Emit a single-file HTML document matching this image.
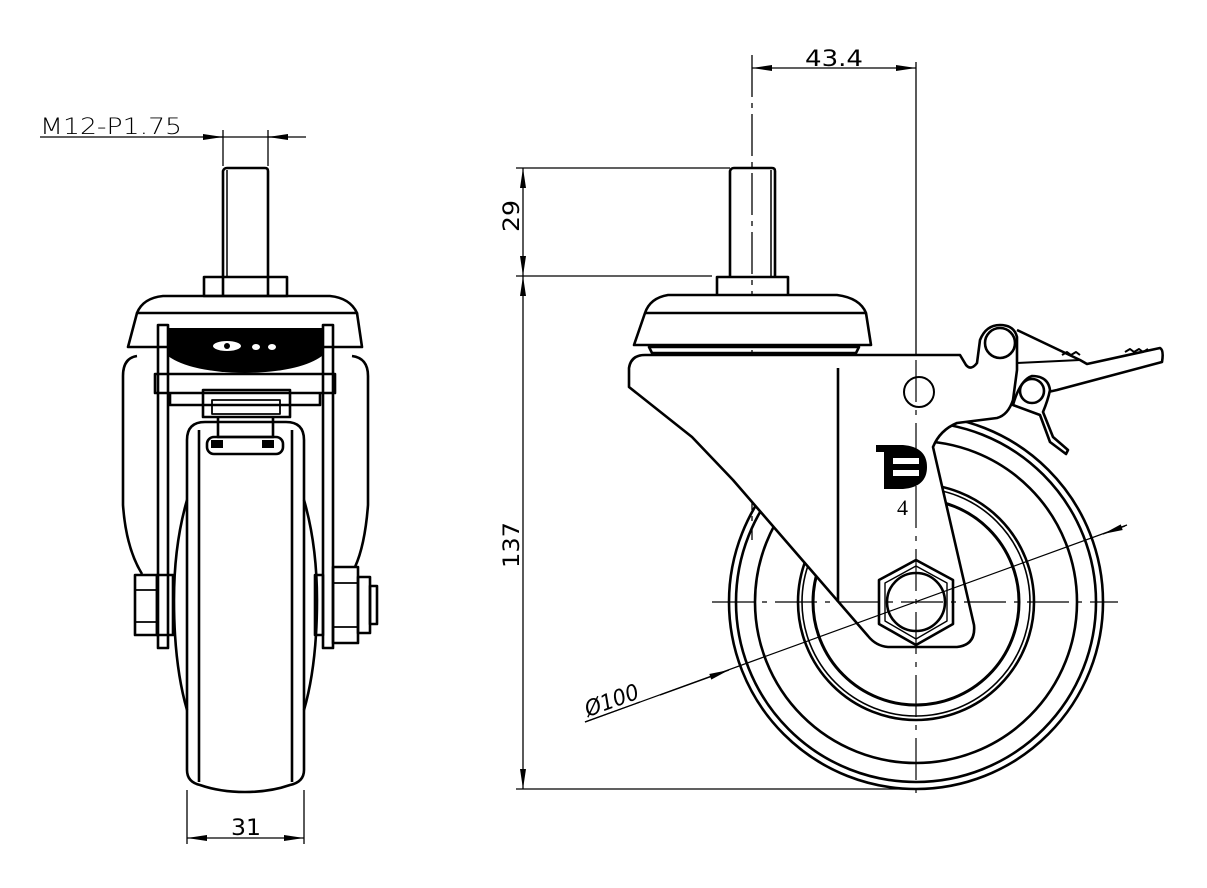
<!DOCTYPE html>
<html><head><meta charset="utf-8"><style>
html,body{margin:0;padding:0;background:#fff}
svg{display:block}
text{font-family:"Liberation Sans",sans-serif;fill:#000}
</style></head><body>
<svg width="1207" height="888" viewBox="0 0 1207 888" xmlns="http://www.w3.org/2000/svg">
<defs>
<marker id="a" viewBox="0 0 20 8" refX="20" refY="4" markerWidth="20" markerHeight="8" markerUnits="userSpaceOnUse" orient="auto-start-reverse"><path d="M0,1 L20,4 L0,7 Z" fill="#000"/></marker>
</defs>
<g fill="none" stroke="#000" stroke-width="1.3">
<!-- ===== LEFT VIEW dims ===== -->
<line x1="40" y1="137" x2="306" y2="137"/>
<line x1="203" y1="137" x2="223" y2="137" marker-end="url(#a)"/>
<line x1="288" y1="137" x2="268" y2="137" marker-end="url(#a)"/>
<line x1="223" y1="130" x2="223" y2="166"/>
<line x1="268" y1="130" x2="268" y2="166"/>
<line x1="187" y1="790" x2="187" y2="844"/>
<line x1="304" y1="790" x2="304" y2="844"/>
<line x1="187" y1="838" x2="304" y2="838" marker-start="url(#a)" marker-end="url(#a)"/>
</g>
<text x="40" y="134" font-size="22" textLength="142" lengthAdjust="spacingAndGlyphs" style="font-family:'DejaVu Sans',sans-serif;font-weight:200">M12-P1.75</text>
<text x="231" y="835" font-size="22" textLength="30" lengthAdjust="spacingAndGlyphs" style="font-family:'DejaVu Sans',sans-serif">31</text>

<!-- ===== LEFT VIEW drawing ===== -->
<g fill="none" stroke="#000" stroke-width="2.6" stroke-linejoin="round">
<!-- stem -->
<path d="M223,296 L223,171 Q224,168 227,168 L265,168 Q268,168 268,171 L268,296"/>
<line x1="227" y1="170" x2="227" y2="277" stroke-width="1.5"/>
<rect x="204" y="277" width="83" height="19"/>
<!-- cap -->
<path d="M163,296 L330,296 Q350,298 357,313 L137,313 Q143,298 163,296 Z"/>
<path d="M137,313 L128,347 L362,347 L357,313"/>
<!-- outer shell -->
<path d="M137,356 Q123,358 123,376 L123,505 Q126,548 142,574"/>
<path d="M352,356 Q368,358 368,376 L368,505 Q365,545 355,567"/>
<!-- fork plates -->
<rect x="158" y="325" width="10" height="323"/>
<rect x="323" y="325" width="10" height="323"/>
<!-- wheel -->
<path d="M187,440 Q187,422 205,422 L286,422 Q304,422 304,440 L304,770 Q304,782 290,785 Q270,792 245,792 Q220,792 200,785 Q187,782 187,770 Z"/>
<line x1="199" y1="430" x2="199" y2="782"/>
<line x1="292" y1="430" x2="292" y2="782"/>
<path d="M187,500 Q174,545 174,600 Q174,665 187,710"/>
<path d="M304,500 Q317,545 317,600 Q317,665 304,710"/>
<!-- nuts -->
<rect x="135" y="575" width="22" height="60"/>
<line x1="135" y1="590" x2="157" y2="590" stroke-width="1.8"/>
<line x1="135" y1="622" x2="157" y2="622" stroke-width="1.8"/>
<rect x="157" y="575" width="16" height="60"/>
<rect x="333" y="567" width="25" height="76"/>
<line x1="333" y1="583" x2="358" y2="583" stroke-width="1.8"/>
<line x1="333" y1="627" x2="358" y2="627" stroke-width="1.8"/>
<rect x="315" y="575" width="8" height="60"/>
<rect x="358" y="577" width="12" height="56"/>
<rect x="370" y="586" width="7" height="38"/>
<!-- bearing area -->
<path d="M155,374 L335,374 L335,393 L155,393 Z"/>
<path d="M170,393 L170,405 L320,405 L320,393"/>
<rect x="203" y="390" width="87" height="27"/>
<rect x="212" y="400" width="68" height="14" stroke-width="1.8"/>
<path d="M218,417 L218,437 L273,437 L273,417"/>
<rect x="207" y="437" width="76" height="17" rx="7"/>
</g>
<!-- dark gear region -->
<path d="M168,328 L322,328 L322,356 Q300,372 245,373 Q190,372 168,356 Z" fill="#000"/>
<ellipse cx="227" cy="346" rx="14" ry="5" fill="#fff"/>
<circle cx="227" cy="346" r="3" fill="#000"/>
<ellipse cx="256" cy="347" rx="4" ry="3" fill="#fff"/>
<ellipse cx="272" cy="347" rx="4" ry="3" fill="#fff"/>
<rect x="211" y="440" width="12" height="8" fill="#000"/>
<rect x="262" y="440" width="12" height="8" fill="#000"/>

<!-- ===== RIGHT VIEW dims ===== -->
<g fill="none" stroke="#000" stroke-width="1.3">
<line x1="752" y1="68" x2="916" y2="68" marker-start="url(#a)" marker-end="url(#a)"/>
<line x1="916" y1="62" x2="916" y2="355"/>
<line x1="752" y1="55" x2="752" y2="540" stroke-dasharray="42 6 5 6"/>
<line x1="516" y1="168" x2="730" y2="168"/>
<line x1="516" y1="276" x2="712" y2="276"/>
<line x1="523" y1="168" x2="523" y2="276" marker-start="url(#a)" marker-end="url(#a)"/>
<line x1="523" y1="276" x2="523" y2="789" marker-start="url(#a)" marker-end="url(#a)"/>
<line x1="516" y1="789" x2="916" y2="789"/>
</g>
<text x="805" y="66" font-size="22" textLength="58" lengthAdjust="spacingAndGlyphs" style="font-family:'DejaVu Sans',sans-serif">43.4</text>
<text transform="translate(519,232) rotate(-90)" font-size="22" textLength="32" lengthAdjust="spacingAndGlyphs" style="font-family:'DejaVu Sans',sans-serif">29</text>
<text transform="translate(519,568) rotate(-90)" font-size="22" textLength="46" lengthAdjust="spacingAndGlyphs" style="font-family:'DejaVu Sans',sans-serif">137</text>

<!-- ===== RIGHT VIEW drawing ===== -->
<g fill="none" stroke="#000" stroke-width="2.6" stroke-linejoin="round">
<!-- wheel -->
<circle cx="916" cy="602" r="187"/>
<circle cx="916" cy="602" r="180"/>
<circle cx="916" cy="602" r="161"/>
<circle cx="916" cy="602" r="118"/>
<circle cx="916" cy="602" r="114" stroke-width="1.6"/>
<circle cx="916" cy="602" r="103" stroke-width="3"/>
<!-- stem -->
<path d="M730,278 L730,171 Q731,168 734,168 L772,168 Q775,168 775,171 L775,278"/>
<line x1="771" y1="170" x2="771" y2="277" stroke-width="1.5"/>
<rect x="717" y="277" width="71" height="19"/>
<!-- cap -->
<path d="M668,295 L837,295 Q860,298 866,313 L871,345 L634,345 L645,313 Q650,298 668,295 Z" fill="#fff"/>
<line x1="645" y1="313" x2="866" y2="313"/>
<path d="M649,347 L859,347 L856,353 L652,353 Z"/>
<!-- fork -->
<path fill="#fff" d="M645,355 L960,355 L966,365 Q971,371 977,363 L980,340 Q986,325 1000,325 Q1014,325 1017,337 L1017,370 L1013,400 Q1008,415 997,418 L957,423 Q940,430 933,447 L974,625 Q976,645 957,647 L888,647 Q876,646 868,636 L733,480 L692,437 L629,387 L629,368 Q631,355 645,355 Z"/>
<line x1="838" y1="368" x2="838" y2="602"/>
<circle cx="1000" cy="343" r="15"/>
<circle cx="919" cy="392" r="15" stroke-width="2"/>
<!-- lever -->
<path fill="#fff" d="M1017,330 L1080,360 L1087,364 L1160,348 Q1164,350 1162,362 L1057,390 L1048,392"/>
<path d="M1080,360 L1017,363" stroke-width="2"/>
<path d="M1062,355 l5,-3 l4,3 l5,-3 l4,3" stroke-width="2"/>
<path d="M1125,352 l5,-3 l4,3 l5,-3 l4,3 l5,-3" stroke-width="2"/>
<!-- brake pawl -->
<path fill="#fff" d="M1013,405 Q1020,380 1032,376 Q1048,376 1050,390 Q1048,400 1043,412 L1053,437 L1068,450 L1066,454 L1050,442 L1040,415 Z"/>
<circle cx="1032" cy="391" r="12"/>
<!-- hex nut -->
<path d="M916,560 L953,580 L953,624 L916,645 L879,624 L879,580 Z" fill="#fff"/>
<path d="M916,566 L947,583 L947,621 L916,639 L885,621 L885,583 Z" stroke-width="1.4"/>
<circle cx="916" cy="602" r="29"/>
</g>
<!-- centre lines -->
<g fill="none" stroke="#000" stroke-width="1.2">
<line x1="712" y1="602" x2="1118" y2="602" stroke-dasharray="42 8 5 8"/>
<line x1="916" y1="360" x2="916" y2="800" stroke-dasharray="42 8 5 8"/>
<line x1="585" y1="722" x2="1127" y2="525"/>
<line x1="660" y1="695" x2="729" y2="670" marker-end="url(#a)"/>
<line x1="1125" y1="526" x2="1103" y2="534" marker-end="url(#a)"/>
<line x1="585" y1="722" x2="640" y2="702"/>
</g>
<text transform="translate(588,717) rotate(-20)" font-size="22" textLength="56" lengthAdjust="spacingAndGlyphs" style="font-family:'DejaVu Sans',sans-serif;font-style:italic">Ø100</text>
<!-- logo -->
<path d="M876,445 L903,445 Q927,447 927,467 Q927,487 903,489 L884,489 L884,452 L876,452 Z" fill="#000"/>
<rect x="893" y="458" width="26" height="6" fill="#fff"/>
<rect x="893" y="470" width="26" height="6" fill="#fff"/>
<path d="M893,458 L893,484 L903,484 Q918,482 919,470" fill="none" stroke="#fff" stroke-width="0"/>
<text x="897" y="515" font-size="22" fill="#444" style="font-family:'Liberation Serif',serif">4</text>
</svg>
</body></html>
